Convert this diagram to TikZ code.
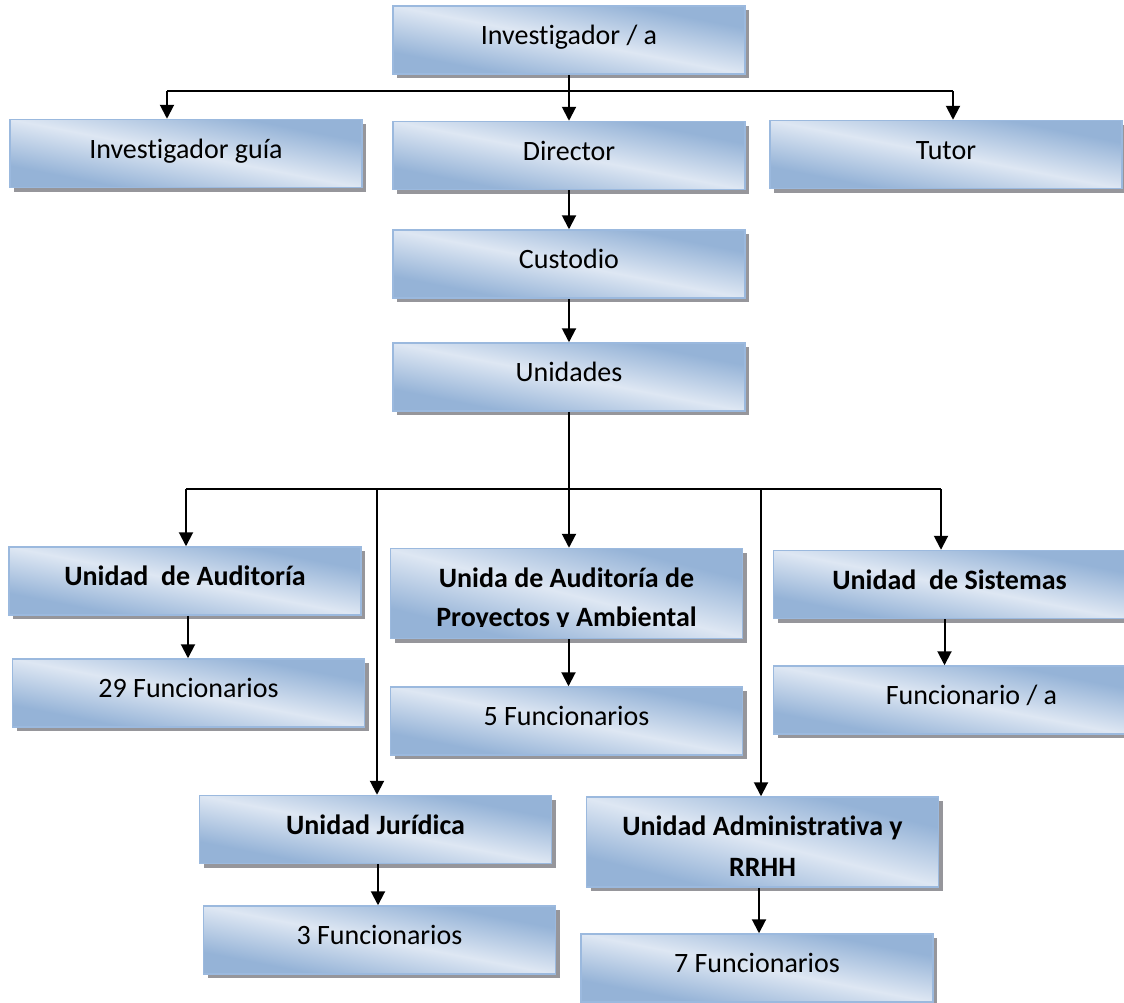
\documentclass[tikz,border=0pt]{standalone}
\usepackage{fontspec}
\setmainfont{Carlito}[Ligatures=NoCommon]
\usetikzlibrary{arrows.meta,shadows,calc}
\definecolor{boxdark}{RGB}{149,179,215}
\definecolor{boxlight}{RGB}{222,231,243}
\definecolor{boxline}{RGB}{155,185,222}
\definecolor{boxshadow}{RGB}{150,150,155}
% light band along one diagonal, darker towards the two other corners
\pgfdeclareverticalshading{boxshade}{100bp}{color(0bp)=(boxdark); color(30bp)=(boxdark);
  color(50bp)=(boxlight); color(70bp)=(boxdark); color(100bp)=(boxdark)}
\tikzset{
  unitbox/.style={draw=boxline, line width=0.75pt, inner sep=0pt,
    minimum width=176pt, minimum height=34pt,
    shading=boxshade, shading angle=-11,
    drop shadow={shadow xshift=2pt, shadow yshift=-2pt, opacity=1, fill=boxshadow, draw=none},
    font=\fontsize{14}{20}\selectfont, text height=8pt, text depth=3.2pt},
  boldbox/.style={unitbox, font=\fontsize{14}{20}\selectfont\bfseries},
  tallbox/.style={unitbox, minimum height=45pt, shading angle=-14},
  boldline/.style={font=\fontsize{14}{20}\selectfont\bfseries, inner sep=0pt, anchor=base},
  link/.style={line width=1pt, -{Triangle[width=7pt,length=7pt]}},
  bar/.style={line width=1pt}
}
\begin{document}
\begin{tikzpicture}[x=0.5pt, y=-0.5pt]
\useasboundingbox (0,0) rectangle (1124,1002);
\fill[white] (0,0) rectangle (1124,1002);

% upper levels
\node[unitbox] (inv)   at (569,40)    {Investigador / a};
\node[unitbox] (guia)  at (186,153.5) {Investigador guía};
\node[unitbox] (dir)   at (569,155.5) {Director};
\node[unitbox] (tutor) at (946,154.5) {Tutor};
\node[unitbox] (cust)  at (569,264)   {Custodio};
\node[unitbox] (unid)  at (569,377)   {Unidades};

% units
\node[boldbox] (aud) at (185,581) {Unidad\ \ de Auditoría};
\node[tallbox] (proy) at (566.5,593.5) {};
\node[boldline] (proyA) at ($(proy.center)+(0,-6.5)$) {Unida de Auditoría de};
\begin{scope}
  \clip (390,600) rectangle (743,626.5);
  \node[boldline] (proyB) at ($(proy.center)+(0,32.5)$) {Proyectos y Ambiental};
\end{scope}
\node[boldbox] (sis) at (949.5,584.5) {Unidad\ \ de Sistemas};
\node[boldbox] (jur) at (375.5,829.5) {Unidad Jurídica};
\node[tallbox] (adm) at (762.5,842) {};
\node[boldline] (admA) at ($(adm.center)+(0,-7)$) {Unidad Administrativa y};
\node[boldline] (admB) at ($(adm.center)+(0,34)$) {RRHH};

% staff
\node[unitbox] (f29) at (188.5,693) {29 Funcionarios};
\node[unitbox] (f5)  at (566.5,721) {5 Funcionarios};
\node[unitbox] (fa)  at (949.5,700) {\hspace*{22pt}Funcionario / a};
\node[unitbox] (f3)  at (379.5,940) {3 Funcionarios};
\node[unitbox] (f7)  at (757,968)   {7 Funcionarios};

% first branching
\coordinate (t1) at (167,91);
\coordinate (t3) at (953,91);
\draw[bar] (t1) -- (t3);
\draw[link] (inv.south) -- (dir.north);
\draw[link] (t1) -- (t1 |- guia.north);
\draw[link] (t3) -- (t3 |- tutor.north);
\draw[link] (dir.south) -- (cust.north);
\draw[link] (cust.south) -- (unid.north);

% second branching
\coordinate (hub) at (569,489);
\coordinate (b1) at (186,489);
\coordinate (b5) at (941,489);
\coordinate (l1) at (377,489);
\coordinate (l2) at (761,489);
\draw[bar] (unid.south) -- (hub);
\draw[bar] (b1) -- (b5);
\draw[link] (b1) -- (b1 |- aud.north);
\draw[link] (hub) -- (hub |- proy.north);
\draw[link] (b5) -- (b5 |- sis.north);
\draw[link] (l1) -- (l1 |- jur.north);
\draw[link] (l2) -- (l2 |- adm.north);

% units to staff
\coordinate (s1) at ($(aud.south)+(3,0)$);
\coordinate (s2) at ($(proy.south)+(2,0)$);
\coordinate (s3) at ($(sis.south)+(-5,0)$);
\coordinate (s4) at ($(jur.south)+(2.5,0)$);
\coordinate (s5) at ($(adm.south)+(-3.5,0)$);
\draw[link] (s1) -- (s1 |- f29.north);
\draw[link] (s2) -- (s2 |- f5.north);
\draw[link] (s3) -- (s3 |- fa.north);
\draw[link] (s4) -- (s4 |- f3.north);
\draw[link] (s5) -- (s5 |- f7.north);
\end{tikzpicture}
\end{document}
